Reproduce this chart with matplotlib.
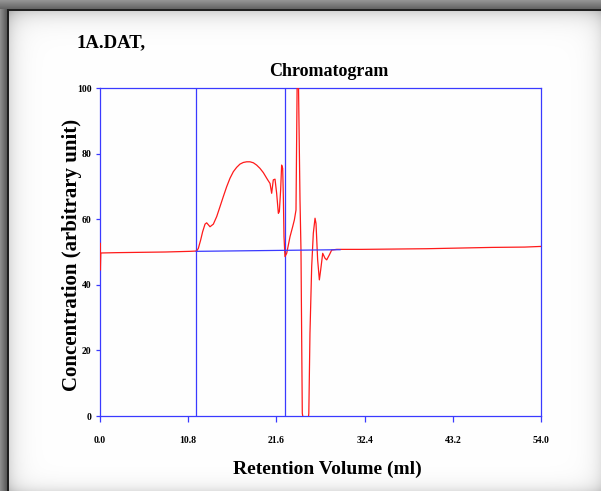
import numpy as np
import matplotlib
matplotlib.use("Agg")
import matplotlib.pyplot as plt

# ---------------- data ----------------
volume = [0.0, 0.02, 0.05, 0.10, 2.0, 5.0, 8.0, 11.0, 11.84, 12.04, 12.33, 12.57, 12.86,
          13.06, 13.47, 13.88, 14.29, 14.69, 15.10, 15.51, 15.92, 16.33, 16.73, 17.14,
          17.55, 17.96, 18.37, 18.78, 19.18, 19.59, 20.00, 20.41, 20.61, 20.82, 21.02,
          21.22, 21.43, 21.63, 21.84, 21.96, 22.12, 22.24, 22.37, 22.45, 22.53, 22.65,
          22.86, 23.06, 23.27, 23.59, 23.80, 24.00, 24.15, 24.30, 24.49, 24.61, 24.69,
          24.77, 24.90, 25.50, 25.57, 25.71, 25.92, 26.12, 26.33, 26.45, 26.65, 26.86,
          27.02, 27.27, 27.55, 27.76, 28.08, 28.37, 28.98, 32.0, 36.0, 40.0, 44.0,
          48.0, 52.0, 54.0]
concentration = [50.0, 52.7, 44.5, 49.7, 49.8, 49.9, 50.0, 50.2, 50.3, 51.1, 53.7, 56.2,
                 58.5, 58.9, 57.7, 58.5, 60.8, 63.8, 66.9, 69.9, 72.5, 74.5, 75.8, 76.8,
                 77.3, 77.5, 77.5, 77.2, 76.5, 75.5, 74.2, 72.5, 71.7, 70.9, 67.9, 72.0,
                 72.2, 67.9, 61.8, 62.3, 68.9, 76.5, 75.5, 66.9, 54.7, 48.6, 49.6, 52.1,
                 54.7, 57.7, 59.8, 62.8, 104.0, 102.0, 65.9, 50.6, 25.2, 0.8, -1.0, -1.0,
                 0.8, 25.2, 45.5, 55.7, 60.3, 58.7, 47.6, 41.5, 44.5, 49.6, 48.1, 47.6,
                 49.1, 50.6, 50.8, 50.8, 50.9, 51.0, 51.2, 51.4, 51.5, 51.7]

marker_volumes = [11.76, 22.65]
baseline_volume = [11.76, 29.4]
baseline_conc = [50.2, 50.7]

x_ticks = [0.0, 10.8, 21.6, 32.4, 43.2, 54.0]
x_tick_labels = ["0.0", "10.8", "21.6", "32.4", "43.2", "54.0"]
y_ticks = [0, 20, 40, 60, 80, 100]
y_tick_labels = ["0", "20", "40", "60", "80", "100"]

# ---------------- figure ----------------
W, H = 601, 491
fig = plt.figure(figsize=(W / 100, H / 100), dpi=100)
fig.patch.set_facecolor("white")

# framed background with shadows
yy, xx = np.mgrid[0:H, 0:W].astype(float)
val = np.ones((H, W))
val -= 0.16 * np.exp(-np.clip(yy - 11, 0, None) / 9.0)
val -= 0.14 * np.exp(-np.clip(xx - 9, 0, None) / 9.0)
val -= 0.10 * np.exp(-(W - 1 - xx) / 9.0)
val -= 0.11 * np.exp(-(H - 1 - yy) / 7.0)
top = np.linspace(0.58, 0.40, 9)
for r in range(9):
    val[r, :] = top[r]
val[9:11, 9:] = 0.13
left = np.linspace(0.55, 0.36, 7)
for c in range(7):
    val[9:, c] = left[c]
val[9:, 7:9] = 0.12
img = np.dstack([val, val, val]).clip(0, 1)
fig.figimage(img, xo=0, yo=0, origin="upper", zorder=-5)

ax = fig.add_axes([100 / W, 75 / H, 441 / W, 328 / H])
ax.set_zorder(5)
ax.patch.set_alpha(0)

blue = "#3a3aff"
red = "#ff1a1a"

ax.plot(volume, concentration, color=red, lw=0.9, zorder=3)
for v in marker_volumes:
    ax.axvline(v, color=blue, lw=0.9, zorder=2)
ax.plot(baseline_volume, baseline_conc, color=blue, lw=0.9, zorder=4)

ax.set_xlim(0, 54)
ax.set_ylim(0, 100)
for s in ax.spines.values():
    s.set_color(blue)
    s.set_linewidth(0.9)

serif = "Liberation Serif"
ax.set_xticks(x_ticks)
ax.set_xticklabels(x_tick_labels, fontfamily=serif, fontweight="bold", fontsize=7)
ax.set_yticks(y_ticks)
ax.set_yticklabels(y_tick_labels, fontfamily=serif, fontweight="bold", fontsize=7)
ax.tick_params(axis="x", direction="out", length=4.3, width=0.9, color=blue, pad=10)
ax.tick_params(axis="y", direction="out", length=3, width=0.9, color=blue, pad=3)

fig.text(76 / W, 1 - 43 / H, "1A.DAT,", fontfamily=serif, fontweight="bold",
         fontsize=13.5, ha="left", va="center", zorder=6)
fig.text(329 / W, 1 - 72 / H, "Chromatogram", fontfamily=serif, fontweight="bold",
         fontsize=13, ha="center", va="center", zorder=6)
fig.text(327 / W, 1 - 469 / H, "Retention Volume (ml)", fontfamily=serif,
         fontweight="bold", fontsize=14, ha="center", va="center", zorder=6)
fig.text(72 / W, 1 - 255 / H, "Concentration (arbitrary unit)", fontfamily=serif,
         fontweight="bold", fontsize=15, ha="center", va="center", rotation=90, zorder=6)

fig.savefig("out.png", dpi=100)
